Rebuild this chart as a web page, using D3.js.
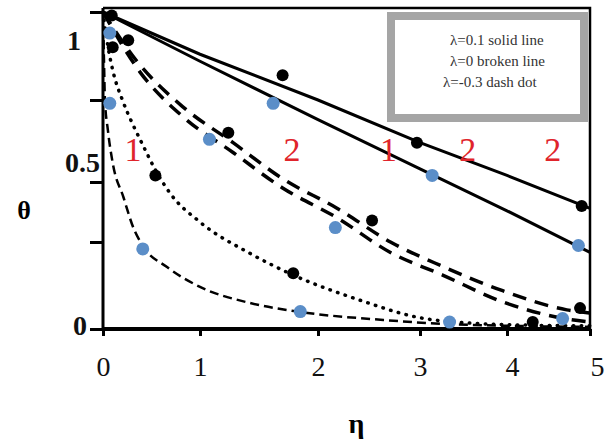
<!DOCTYPE html>
<meta charset="utf-8">
<script src="https://cdn.jsdelivr.net/npm/d3@7"></script>
<style>
  body { margin: 0; background: #fff; }
</style>
<svg id="chart" width="613" height="442"></svg>
<script>

    // tick values
    var etaTicks = [0, 1, 2, 3, 4, 5];
    var thetaTicks = [0, 0.25, 0.5, 0.75, 1];
    var thetaLabelled = [0, 0.5, 1];

    // lambda = 0.1, solid lines (curves 1 and 2)
    var solid1 = [[0, 1], [1, 0.88], [2, 0.75], [3, 0.62], [4, 0.52], [5, 0.39]];
    var solid2 = [[0, 1], [1, 0.86], [2, 0.69], [3, 0.54], [4, 0.38], [5, 0.22]];

    // lambda = 0, broken lines
    var broken1 = [[0, 1], [0.35, 0.86], [0.82, 0.73], [1.28, 0.62], [1.70, 0.51], [2.19, 0.39],
                   [2.71, 0.25], [3.26, 0.18], [3.95, 0.11], [4.72, 0.055], [5, 0.046]];
    var broken2 = [[0, 1], [0.38, 0.83], [0.82, 0.70], [1.28, 0.59], [1.70, 0.475], [2.19, 0.35],
                   [2.71, 0.22], [3.26, 0.155], [3.95, 0.078], [4.72, 0.029], [5, 0.02]];

    // lambda = -0.3
    var dotted1 = [[0, 1], [0.04, 0.92], [0.10, 0.835], [0.20, 0.75], [0.31, 0.674], [0.41, 0.613],
                   [0.54, 0.537], [0.69, 0.454], [1.0, 0.333], [1.42, 0.218], [1.79, 0.155],
                   [2.41, 0.083], [2.97, 0.034], [3.57, 0.017], [4.28, 0.011], [5, 0.009]];
    var dashed2 = [[0, 1], [0.01, 0.864], [0.02, 0.75], [0.05, 0.659], [0.10, 0.558], [0.21, 0.4375],
                   [0.31, 0.3125], [0.41, 0.239], [0.66, 0.178], [1.0, 0.121], [1.42, 0.075],
                   [1.85, 0.049], [2.64, 0.026], [3.34, 0.014], [5, 0.006]];

    // markers
    var blackPts = [[0.09, 0.99], [0.26, 0.92], [0.10, 0.90], [1.70, 0.82], [1.24, 0.65], [0.54, 0.52],
                    [2.97, 0.62], [2.53, 0.34], [1.79, 0.16], [4.90, 0.40], [4.88, 0.06], [4.31, 0.02]];
    var bluePts = [[0.07, 0.94], [0.07, 0.74], [0.41, 0.23], [1.08, 0.63], [1.62, 0.74], [2.17, 0.31],
                   [3.14, 0.52], [4.86, 0.24], [1.85, 0.05], [3.34, 0.02], [4.67, 0.03]];

    // red curve numbers
    var curveNames = ["1", "2", "1", "2", "2"];
    var curveNameEta = [0.31, 1.78, 2.69, 3.55, 4.55];
    var curveNameTheta = 0.6;

    var legendLines = ["\u03bb=0.1 solid line", "\u03bb=0 broken line", "\u03bb=-0.3 dash dot"];

    var serif = "'Liberation Serif', 'Times New Roman', 'DejaVu Serif'";

    var svg = d3.select("#chart");

    // the scanned axes are not evenly spaced, so the scales follow the printed ticks
    var x = d3.scaleLinear().domain(etaTicks).range([103, 200, 318, 420, 507, 590]);
    var y = d3.scaleLinear().domain(thetaTicks).range([329, 242, 182, 100, 12]);

    // frame top and right
    svg.append("path")
        .attr("d", "M" + x(0) + "," + (y(1) - 4) + "H" + x(5) + "V" + y(0))
        .attr("fill", "none")
        .attr("stroke", "#000")
        .attr("stroke-width", 2.5);

    // legend box
    var lg = svg.append("g");
    lg.append("rect")
        .attr("x", 391).attr("y", 16)
        .attr("width", 193).attr("height", 102)
        .attr("fill", "#fff")
        .attr("stroke", "#a5a5a5")
        .attr("stroke-width", 8);
    lg.selectAll("text")
        .data(legendLines)
        .enter()
        .append("text")
        .attr("x", function (d, i) { return i == 2 ? 443 : 450 })
        .attr("y", function (d, i) { return 45 + i * 21 })
        .style("font-family", serif)
        .style("font-size", "15px")
        .attr("fill", "#333")
        .text(function (d) { return d });

    var line = d3.line()
        .x(function (d) { return x(d[0]) })
        .y(function (d) { return y(d[1]) });
    var smooth = d3.line()
        .x(function (d) { return x(d[0]) })
        .y(function (d) { return y(d[1]) })
        .curve(d3.curveMonotoneX);

    function addLine(data, gen, width, dash, cap) {
        svg.append("path")
            .datum(data)
            .attr("fill", "none")
            .attr("stroke", "#000")
            .attr("stroke-width", width)
            .attr("stroke-dasharray", dash)
            .attr("stroke-linecap", cap || "butt")
            .attr("d", gen);
    }

    addLine(solid1, line, 3, null);
    addLine(solid2, line, 3, null);
    addLine(broken1, smooth, 3.5, "14,9");
    addLine(broken2, smooth, 3.5, "14,9");
    addLine(dotted1, smooth, 3.5, "0.5,7.5", "round");
    addLine(dashed2, smooth, 2.5, "9,5");

    // axes
    var yAxis = d3.axisLeft(y)
        .tickValues(thetaTicks)
        .tickSize(13)
        .tickPadding(3)
        .tickFormat(function (d) { return thetaLabelled.indexOf(d) >= 0 ? d : "" });
    var gy = svg.append("g")
        .attr("transform", "translate(" + x(0) + ",0)")
        .call(yAxis);
    var yShift = { 0: [0, -3], 0.5: [13, -19], 1: [-6, 29] };
    gy.selectAll(".tick text")
        .style("font-family", serif)
        .style("font-size", "28px")
        .style("font-weight", "bold")
        .attr("fill", "#111")
        .attr("transform", function (d) {
            var s = yShift[d] || [0, 0];
            return "translate(" + s[0] + "," + s[1] + ")";
        });

    var xAxis = d3.axisBottom(x)
        .tickValues(etaTicks)
        .tickSize(7)
        .tickPadding(20)
        .tickFormat(d3.format("d"));
    var gx = svg.append("g")
        .attr("transform", "translate(0," + y(0) + ")")
        .call(xAxis);
    gx.selectAll(".tick text")
        .style("font-family", serif)
        .style("font-size", "28px")
        .attr("fill", "#111")
        .attr("dx", function (d) { return d == 5 ? 7 : d == 4 ? 5 : 0 });

    svg.selectAll(".domain").remove();
    svg.selectAll(".tick line").attr("stroke", "#000").attr("stroke-width", 3);
    svg.append("line")
        .attr("x1", x(0)).attr("x2", x(0))
        .attr("y1", y(1) - 4).attr("y2", y(0) + 2)
        .attr("stroke", "#000").attr("stroke-width", 3);
    svg.append("line")
        .attr("x1", x(0) - 1).attr("x2", x(5) + 1)
        .attr("y1", y(0)).attr("y2", y(0))
        .attr("stroke", "#000").attr("stroke-width", 4);

    // axis titles
    svg.append("text")
        .attr("x", 24).attr("y", 210)
        .attr("text-anchor", "middle")
        .attr("dominant-baseline", "central")
        .style("font-family", serif)
        .style("font-size", "26px")
        .style("font-weight", "bold")
        .text("\u03b8");
    svg.append("text")
        .attr("x", (x(0) + x(5)) / 2 + 10).attr("y", 423)
        .attr("text-anchor", "middle")
        .attr("dominant-baseline", "central")
        .style("font-family", serif)
        .style("font-size", "28px")
        .style("font-weight", "bold")
        .text("\u03b7");

    // red curve numbers
    svg.append("g")
        .selectAll("text")
        .data(curveNames)
        .enter()
        .append("text")
        .attr("x", function (d, i) { return x(curveNameEta[i]) })
        .attr("y", y(curveNameTheta))
        .attr("text-anchor", "middle")
        .attr("dominant-baseline", "central")
        .style("font-family", serif)
        .style("font-size", "34px")
        .attr("fill", "#e0242b")
        .text(function (d) { return d });

    // markers
    svg.append("g")
        .selectAll("circle")
        .data(blackPts)
        .enter()
        .append("circle")
        .attr("cx", function (d) { return x(d[0]) })
        .attr("cy", function (d) { return y(d[1]) })
        .attr("r", 6)
        .style("fill", "#000");

    svg.append("g")
        .selectAll("circle")
        .data(bluePts)
        .enter()
        .append("circle")
        .attr("cx", function (d) { return x(d[0]) })
        .attr("cy", function (d) { return y(d[1]) })
        .attr("r", 6.5)
        .style("fill", "#5b8ec8");

</script>
